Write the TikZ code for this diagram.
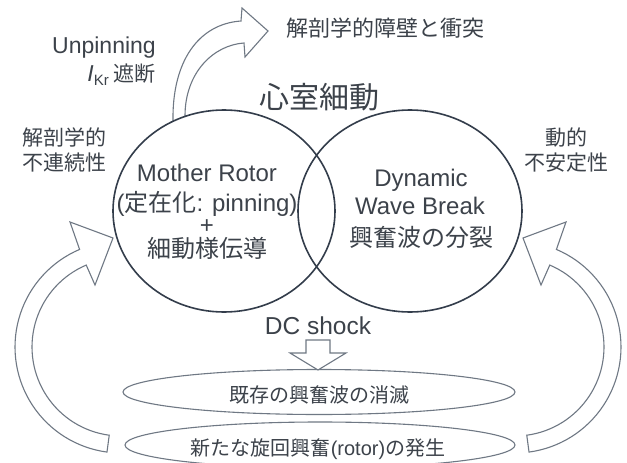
\documentclass[tikz,border=0pt]{standalone}
\usepackage{fontspec}
\setmainfont{Liberation Sans}
\newfontfamily\jp{Noto Sans CJK JP}
\usetikzlibrary{shapes.geometric}
\definecolor{txt}{HTML}{3C424A}
\definecolor{circ}{HTML}{333D4B}
\definecolor{arr}{HTML}{6F7884}
\tikzset{
  venn/.style={draw=circ, line width=1.6pt, ellipse, inner sep=0pt},
  lens/.style={draw=arr, line width=1.1pt, ellipse, inner sep=0pt},
  blockarrow/.style={draw=arr, line width=1.1pt, fill=white, line join=miter},
  lbl/.style={text=txt, inner sep=0pt, anchor=base},
}
\newcommand{\fs}[1]{\fontsize{#1}{#1}\selectfont}
\begin{document}
\begin{tikzpicture}[x=1pt,y=-1pt]
\useasboundingbox[fill=white] (0,0) rectangle (627,463);
% side curved arrows
\draw[blockarrow] plot[domain=97.6:247,samples=50] ({121+106*cos(\x)},{347+106*sin(\x)})
   -- (70,222) -- (113,238) -- (95,285)
   -- plot[domain=247:97.6,samples=50] ({121+89*cos(\x)},{347+89*sin(\x)}) -- cycle;
\draw[blockarrow] plot[domain=82.4:-67,samples=50] ({515+106*cos(\x)},{347+106*sin(\x)})
   -- (566,222) -- (523,238) -- (541,285)
   -- plot[domain=-67:82.4,samples=50] ({515+89*cos(\x)},{347+89*sin(\x)}) -- cycle;
% top curved arrow
\draw[blockarrow] (173,121) .. controls (172,62) and (198,24) .. (241,21)
   -- (242,8) -- (268,31) -- (245,57) -- (244,43)
   .. controls (214,45) and (185,72) .. (185,116);
% Venn circles
\node[venn, minimum width=222pt, minimum height=202pt] (L) at (224,211) {};
\node[venn, minimum width=224pt, minimum height=202pt] (R) at (410,211) {};
% bottom ellipses
\node[lens, minimum width=392pt, minimum height=45pt] (E1) at (319,392) {};
\node[lens, minimum width=390pt, minimum height=46pt] (E2) at (320,445) {};
% DC shock arrow
\draw[blockarrow] (306,340) -- (330,340) -- (330,353) -- (346,353) -- (318,370)
   -- (290,353) -- (306,353) -- cycle;
% texts
\node[lbl] (title) at (319,108) {\jp\fs{30}心室細動};
\node[lbl] (barrier) at (385,36) {\jp\fs{22}解剖学的障壁と衝突};
\node[lbl] (unpin) at (104,53) {\fs{23}Unpinning};
\node[lbl, anchor=base east] (ikr) at (156,81) {\fs{23}\itshape I\upshape\raisebox{-4pt}{\fs{15}Kr}\hspace{5pt}{\jp\fs{21}遮断}};
\node[lbl] (anat1) at (65,145) {\jp\fs{21}解剖学的};
\node[lbl] (anat2) at (65,170) {\jp\fs{21}不連続性};
\node[lbl] (dyn1) at (566,145) {\jp\fs{21}動的};
\node[lbl] (dyn2) at (566,170) {\jp\fs{21}不安定性};
\node[lbl] (mr1) at (207,181) {\fs{24}Mother Rotor};
\node[lbl] (mr2) at (207,211) {\fs{24}({\jp 定在化}: pinning)};
\node[lbl] (mr3) at (207,233) {\fs{24}+};
\node[lbl] (mr4) at (207,257) {\jp\fs{24}細動様伝導};
\node[lbl] (dw1) at (421,186) {\fs{24}Dynamic};
\node[lbl] (dw2) at (420,214) {\fs{24}Wave Break};
\node[lbl] (dw3) at (421,246) {\jp\fs{24}興奮波の分裂};
\node[lbl] (dc) at (318,334) {\fs{24.5}DC shock};
\node[lbl] (e1t) at (319,402) {\jp\fs{20}既存の興奮波の消滅};
\node[lbl] (e2t) at (318,455) {\fs{20}{\jp 新たな旋回興奮}(rotor){\jp の発生}};
\end{tikzpicture}
\end{document}
